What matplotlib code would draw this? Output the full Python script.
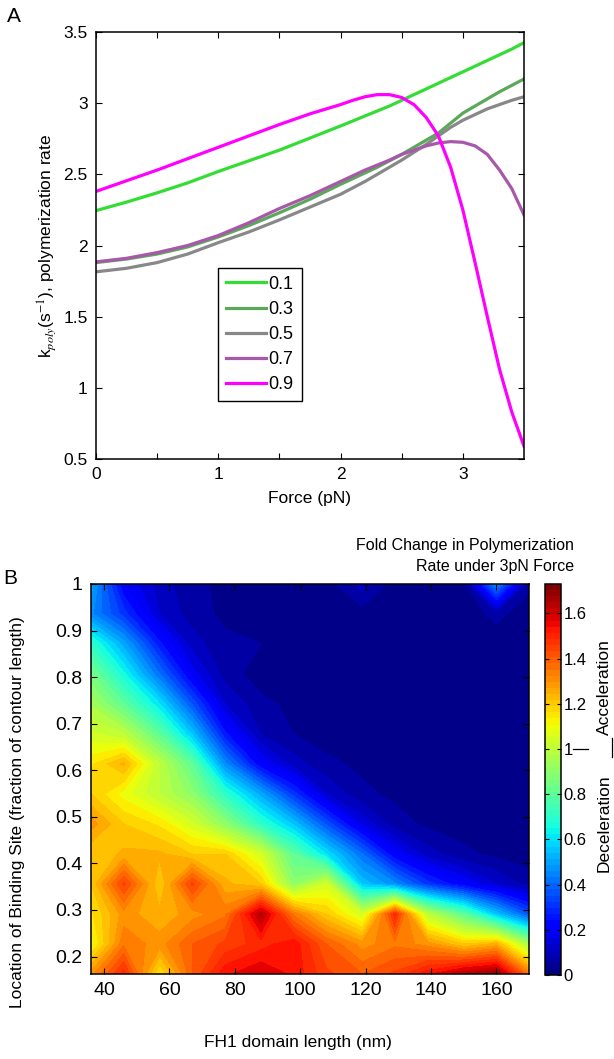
import numpy as np
import matplotlib
matplotlib.use("Agg")
import matplotlib.pyplot as plt
import matplotlib.cm as cm
from matplotlib.colors import Normalize

plt.rcParams['font.family'] = ['Liberation Sans', 'DejaVu Sans']
plt.rcParams['mathtext.fontset'] = 'stix'

# ---- panel A: polymerization rate vs force ----
force = [0, 0.25, 0.5, 0.75, 1.0, 1.25, 1.5, 1.75, 2.0, 2.1, 2.2, 2.3, 2.4,
         2.5, 2.6, 2.7, 2.8, 2.9, 3.0, 3.1, 3.2, 3.3, 3.4, 3.5]
rate_01 = [2.245, 2.305, 2.37, 2.44, 2.52, 2.595, 2.67, 2.755, 2.84, 2.875, 2.91, 2.945,
           2.98, 3.02, 3.06, 3.10, 3.14, 3.18, 3.22, 3.26, 3.30, 3.34, 3.38, 3.425]
rate_03 = [1.88, 1.905, 1.94, 1.99, 2.06, 2.14, 2.23, 2.325, 2.43, 2.47, 2.51, 2.55,
           2.595, 2.64, 2.69, 2.74, 2.79, 2.86, 2.93, 2.98, 3.03, 3.08, 3.125, 3.17]
rate_05 = [1.815, 1.84, 1.88, 1.94, 2.02, 2.095, 2.18, 2.27, 2.36, 2.405, 2.45, 2.50,
           2.55, 2.60, 2.655, 2.71, 2.77, 2.83, 2.88, 2.92, 2.96, 2.99, 3.02, 3.045]
rate_07 = [1.885, 1.91, 1.95, 2.00, 2.07, 2.16, 2.26, 2.35, 2.45, 2.49, 2.53, 2.565,
           2.60, 2.64, 2.67, 2.70, 2.72, 2.73, 2.725, 2.70, 2.64, 2.53, 2.40, 2.215]
rate_09 = [2.38, 2.455, 2.53, 2.61, 2.69, 2.77, 2.85, 2.925, 2.99, 3.02, 3.045, 3.06,
           3.06, 3.04, 2.99, 2.90, 2.77, 2.55, 2.25, 1.88, 1.50, 1.13, 0.83, 0.59]
site_labels = ['0.1', '0.3', '0.5', '0.7', '0.9']
line_colors = ['#33dd33', '#5aa85a', '#888888', '#a858a8', '#ff00ff']

# ---- panel B: fold change grid ----
fh1_len = [36, 46, 57, 67, 77, 88, 98, 108, 119, 129, 139, 150, 160, 170]
site_loc = [1.0, 0.936, 0.872, 0.807, 0.743, 0.678, 0.614, 0.549, 0.485, 0.420,
            0.356, 0.291, 0.227, 0.1625]
fold = [
    [0.50, 0.20, 0.10, 0.05, 0.03, 0.02, 0.02, 0.02, 0.10, 0.02, 0.02, 0.02, 0.45, 0.05],
    [0.45, 0.30, 0.12, 0.06, 0.03, 0.02, 0.02, 0.02, 0.02, 0.02, 0.02, 0.02, 0.05, 0.02],
    [0.70, 0.50, 0.25, 0.10, 0.05, 0.04, 0.02, 0.02, 0.02, 0.02, 0.02, 0.02, 0.02, 0.02],
    [0.85, 0.65, 0.40, 0.18, 0.06, 0.02, 0.02, 0.02, 0.02, 0.02, 0.02, 0.02, 0.02, 0.02],
    [0.95, 0.80, 0.60, 0.35, 0.12, 0.05, 0.03, 0.02, 0.02, 0.02, 0.02, 0.02, 0.02, 0.02],
    [1.05, 1.00, 0.80, 0.55, 0.25, 0.08, 0.04, 0.02, 0.02, 0.02, 0.02, 0.02, 0.02, 0.02],
    [1.15, 1.25, 1.00, 0.80, 0.45, 0.20, 0.10, 0.05, 0.03, 0.02, 0.02, 0.02, 0.02, 0.02],
    [1.20, 1.10, 1.00, 0.90, 0.70, 0.50, 0.30, 0.12, 0.05, 0.03, 0.02, 0.02, 0.02, 0.02],
    [1.30, 1.20, 1.15, 1.05, 0.90, 0.70, 0.55, 0.35, 0.15, 0.06, 0.03, 0.02, 0.02, 0.02],
    [1.20, 1.25, 1.25, 1.20, 1.20, 1.05, 0.80, 0.60, 0.40, 0.20, 0.10, 0.05, 0.03, 0.02],
    [1.20, 1.45, 1.20, 1.45, 1.25, 1.20, 0.90, 1.05, 0.55, 0.45, 0.30, 0.20, 0.12, 0.06],
    [1.15, 1.30, 1.25, 1.30, 1.35, 1.65, 1.35, 1.20, 1.05, 1.50, 1.00, 0.80, 0.55, 0.35],
    [1.10, 1.35, 1.30, 1.40, 1.45, 1.50, 1.55, 1.40, 1.30, 1.35, 1.30, 1.20, 1.25, 0.95],
    [1.30, 1.50, 1.15, 1.40, 1.55, 1.60, 1.55, 1.45, 1.40, 1.45, 1.55, 1.65, 1.70, 1.35],
]
cb_ticks = [0, 0.2, 0.4, 0.6, 0.8, 1.0, 1.2, 1.4, 1.6]

W, H = 614, 1059
fig = plt.figure(figsize=(W / 100, H / 100), dpi=100)


def box(l, t, r, b):
    return [l / W, 1 - b / H, (r - l) / W, (b - t) / H]


def style_ax(ax, size):
    ax.tick_params(direction='in', top=True, right=True, length=4, width=0.8,
                   labelsize=size, pad=6)
    for s in ax.spines.values():
        s.set_linewidth(1.1)


# panel A
axA = fig.add_axes(box(96, 32, 524, 459))
rates = [rate_01, rate_03, rate_05, rate_07, rate_09]
for r, lab, c in zip(rates, site_labels, line_colors):
    axA.plot(force, r, color=c, lw=2.3, label=lab)
axA.set_xlim(0, 3.5)
axA.set_ylim(0.5, 3.5)
axA.set_xticks([0, 0.5, 1, 1.5, 2, 2.5, 3])
axA.set_xticklabels(['0', '', '1', '', '2', '', '3'])
axA.set_yticks([0.5, 1, 1.5, 2, 2.5, 3, 3.5])
axA.set_yticklabels(['0.5', '1', '1.5', '2', '2.5', '3', '3.5'])
style_ax(axA, 12.5)
axA.set_xlabel('Force (pN)', fontsize=12.5, labelpad=6)
axA.set_ylabel(r'k$_{poly}$(s$^{-1}$), polymerization rate', fontsize=12.5, labelpad=4)
leg = axA.legend(loc='lower left', bbox_to_anchor=(0.285, 0.135), borderaxespad=0,
                 fancybox=False, edgecolor='black', fontsize=13, handlelength=2.2,
                 handletextpad=0.15, labelspacing=0.45, borderpad=0.45, framealpha=1)
leg.get_frame().set_linewidth(1.0)
fig.text(14 / W, 1 - 16 / H, 'A', ha='center', va='center', fontsize=15)

# panel B
axB = fig.add_axes(box(91, 584, 529, 974))
vmax = 1.73
levels = np.arange(0, vmax + 0.04, 0.04)
X, Y = np.meshgrid(fh1_len, site_loc)
axB.contourf(X, Y, np.array(fold), levels=levels, cmap='jet', vmin=0, vmax=vmax,
             extend='both')
axB.set_xlim(36, 170)
axB.set_ylim(0.1625, 1.0)
axB.set_xticks([40, 60, 80, 100, 120, 140, 160])
axB.set_yticks([0.2, 0.3, 0.4, 0.5, 0.6, 0.7, 0.8, 0.9, 1.0])
axB.set_yticklabels(['0.2', '0.3', '0.4', '0.5', '0.6', '0.7', '0.8', '0.9', '1'])
style_ax(axB, 14)
fig.text(298 / W, 1 - 1043 / H, 'FH1 domain length (nm)', ha='center', va='center',
         fontsize=12.5)
fig.text(18 / W, 1 - 812 / H, 'Location of Binding Site (fraction of contour length)',
         ha='center', va='center', rotation=90, fontsize=12.5)
fig.text(10 / W, 1 - 578 / H, 'B', ha='center', va='center', fontsize=15)
fig.text(574 / W, 1 - 556 / H, 'Fold Change in Polymerization\nRate under 3pN Force',
         ha='right', va='center', multialignment='right', fontsize=11.5,
         linespacing=1.45)

# colorbar
cax = fig.add_axes(box(545, 584, 561, 975))
sm = cm.ScalarMappable(norm=Normalize(0, vmax), cmap=plt.get_cmap('jet', 64))
cb = fig.colorbar(sm, cax=cax, ticks=cb_ticks)
cb.ax.set_yticklabels(['0', '0.2', '0.4', '0.6', '0.8', '1', '1.2', '1.4', '1.6'])
cb.ax.tick_params(direction='in', left=True, right=True, length=3, width=0.8,
                  labelsize=12, pad=2)
cb.outline.set_linewidth(1.1)

# acceleration / deceleration annotation
y1 = 1 - 749 / H
fig.add_artist(plt.Line2D([573 / W, 588 / W], [y1, y1], color='black', lw=0.9))
fig.add_artist(plt.Line2D([612 / W, 612 / W], [1 - 738 / H, 1 - 757 / H],
                          color='black', lw=0.9))
fig.text(604 / W, 1 - 687 / H, 'Acceleration', rotation=90, ha='center', va='center',
         fontsize=12.5)
fig.text(604 / W, 1 - 823 / H, 'Deceleration', rotation=90, ha='center', va='center',
         fontsize=12.5)

fig.savefig('out.png', dpi=100)
